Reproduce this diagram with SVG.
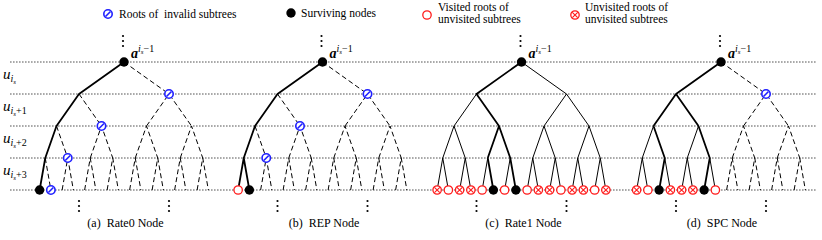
<svg xmlns="http://www.w3.org/2000/svg" width="822" height="240" viewBox="0 0 822 240" font-family="'Liberation Serif', 'Times New Roman', serif">
<style>
.lvl{stroke:#555;stroke-width:1;stroke-dasharray:1.6 1.4;fill:none}
.th{stroke:#000;stroke-width:1.8;fill:none;stroke-linejoin:round}
.tn{stroke:#000;stroke-width:1;fill:none}
.ds{stroke:#000;stroke-width:1;fill:none;stroke-dasharray:5 3}
.lg{font-size:11.5px;white-space:pre}
.cap{font-size:12px;text-anchor:middle;white-space:pre}
.m{font-style:italic}
</style>
<defs>
<g id="blk"><circle r="4.7" fill="#000"/></g>
<g id="inv"><circle r="4.2" fill="#fff" stroke="#1f1fff" stroke-width="1.6"/><line x1="-2.5" y1="2.5" x2="2.5" y2="-2.5" stroke="#1f1fff" stroke-width="1.6"/></g>
<g id="vis"><circle r="4.2" fill="#fff" stroke="#ff1a1a" stroke-width="1.3"/></g>
<g id="unv"><circle r="4.2" fill="#fff" stroke="#ff1a1a" stroke-width="1.3"/><path d="M-2.7,-2.7 L2.7,2.7 M-2.7,2.7 L2.7,-2.7" stroke="#ff1a1a" stroke-width="1.1"/></g>
<g id="vd"><circle r="1.1"/><circle cy="5" r="1.1"/><circle cy="10" r="1.1"/></g>
<path id="rsub" d="M22.5,64 L45,32 L67.5,64 M11.25,96 L22.5,64 L33.75,96 M56.25,96 L67.5,64 L78.75,96 M5.625,128 L11.25,96 L16.875,128 M28.125,128 L33.75,96 L39.375,128 M50.625,128 L56.25,96 L61.875,128 M73.125,128 L78.75,96 L84.375,128"/>
</defs>
<rect width="822" height="240" fill="#fff"/>

<g id="levels">
<line class="lvl" x1="10" y1="62" x2="817" y2="62"/>
<line class="lvl" x1="10" y1="94" x2="817" y2="94"/>
<line class="lvl" x1="10" y1="126" x2="817" y2="126"/>
<line class="lvl" x1="10" y1="158" x2="817" y2="158"/>
<line class="lvl" x1="10" y1="190" x2="817" y2="190"/>
</g>

<g id="level-labels">
<text x="3" y="79"><tspan class="m" font-size="15">u</tspan><tspan class="m" font-size="10" dy="3">i</tspan><tspan class="m" font-size="7" dy="2">s</tspan></text>
<text x="3" y="111"><tspan class="m" font-size="15">u</tspan><tspan class="m" font-size="10" dy="3">i</tspan><tspan class="m" font-size="7" dy="2">s</tspan><tspan font-size="10" dy="-2">+1</tspan></text>
<text x="3" y="143"><tspan class="m" font-size="15">u</tspan><tspan class="m" font-size="10" dy="3">i</tspan><tspan class="m" font-size="7" dy="2">s</tspan><tspan font-size="10" dy="-2">+2</tspan></text>
<text x="3" y="175"><tspan class="m" font-size="15">u</tspan><tspan class="m" font-size="10" dy="3">i</tspan><tspan class="m" font-size="7" dy="2">s</tspan><tspan font-size="10" dy="-2">+3</tspan></text>
</g>

<g id="legend">
<use href="#inv" x="108" y="14"/>
<text class="lg" x="119" y="18">Roots of  invalid subtrees</text>
<use href="#blk" x="291" y="13"/>
<text class="lg" x="301" y="17">Surviving nodes</text>
<use href="#vis" x="427" y="15"/>
<text class="lg" x="438" y="10.5">Visited roots of</text>
<text class="lg" x="438" y="23">unvisited subtrees</text>
<use href="#unv" x="575" y="15"/>
<text class="lg" x="585" y="10.5">Unvisited roots of</text>
<text class="lg" x="585" y="23">unvisited subtrees</text>
</g>

<g id="tree-a">
<g id="conn-a" transform="translate(124,62)">
<path class="th" d="M0,0 L-45,32 L-67.5,64 L-78.75,96 L-84.375,128"/>
<path class="ds" d="M0,0 L45,32 M-45,32 L-22.5,64 M-67.5,64 L-56.25,96 M-78.75,96 L-73.125,128 M-33.75,96 L-22.5,64 L-11.25,96 M-39.375,128 L-33.75,96 L-28.125,128 M-16.875,128 L-11.25,96 L-5.625,128 M-61.875,128 L-56.25,96 L-50.625,128"/>
<use href="#rsub" class="ds"/>
</g>
<g id="nodes-a" transform="translate(124,62)">
<use href="#blk" x="0" y="0"/>
<use href="#inv" x="45" y="32"/>
<use href="#inv" x="-22.5" y="64"/>
<use href="#inv" x="-56.25" y="96"/>
<use href="#blk" x="-84.375" y="128"/>
<use href="#inv" x="-73.125" y="128"/>
</g>
</g>

<g id="tree-b">
<g id="conn-b" transform="translate(322.5,62)">
<path class="th" d="M0,0 L-45,32 L-67.5,64 L-78.75,96 L-73.125,128 M-78.75,96 L-84.375,128"/>
<path class="ds" d="M0,0 L45,32 M-45,32 L-22.5,64 M-67.5,64 L-56.25,96 M-33.75,96 L-22.5,64 L-11.25,96 M-39.375,128 L-33.75,96 L-28.125,128 M-16.875,128 L-11.25,96 L-5.625,128 M-61.875,128 L-56.25,96 L-50.625,128"/>
<use href="#rsub" class="ds"/>
</g>
<g id="nodes-b" transform="translate(322.5,62)">
<use href="#blk" x="0" y="0"/>
<use href="#inv" x="45" y="32"/>
<use href="#inv" x="-22.5" y="64"/>
<use href="#inv" x="-56.25" y="96"/>
<use href="#vis" x="-84.375" y="128"/>
<use href="#blk" x="-73.125" y="128"/>
</g>
</g>

<g id="tree-c">
<g id="conn-c" transform="translate(521.5,62)">
<path class="tn" d="M0,0 L45,32 M-45,32 L-67.5,64 M-78.75,96 L-67.5,64 L-56.25,96 M-84.375,128 L-78.75,96 L-73.125,128 M-61.875,128 L-56.25,96 L-50.625,128 M-33.75,96 L-39.375,128 M-11.25,96 L-16.875,128"/>
<use href="#rsub" class="tn"/>
<path class="th" d="M0,0 L-45,32 L-22.5,64 M-33.75,96 L-22.5,64 L-11.25,96 M-33.75,96 L-28.125,128 M-11.25,96 L-5.625,128"/>
</g>
<g id="nodes-c" transform="translate(521.5,62)">
<use href="#blk" x="0" y="0"/>
<use href="#unv" x="-84.375" y="128"/>
<use href="#vis" x="-73.125" y="128"/>
<use href="#unv" x="-61.875" y="128"/>
<use href="#unv" x="-50.625" y="128"/>
<use href="#vis" x="-39.375" y="128"/>
<use href="#blk" x="-28.125" y="128"/>
<use href="#vis" x="-16.875" y="128"/>
<use href="#blk" x="-5.625" y="128"/>
<use href="#vis" x="5.625" y="128"/>
<use href="#unv" x="16.875" y="128"/>
<use href="#unv" x="28.125" y="128"/>
<use href="#vis" x="39.375" y="128"/>
<use href="#unv" x="50.625" y="128"/>
<use href="#unv" x="61.875" y="128"/>
<use href="#vis" x="73.125" y="128"/>
<use href="#unv" x="84.375" y="128"/>
</g>
</g>

<g id="tree-d">
<g id="conn-d" transform="translate(721,62)">
<path class="tn" d="M-67.5,64 L-78.75,96 M-84.375,128 L-78.75,96 L-73.125,128 M-56.25,96 L-50.625,128 M-22.5,64 L-33.75,96 M-39.375,128 L-33.75,96 L-28.125,128 M-11.25,96 L-5.625,128"/>
<path class="th" d="M0,0 L-45,32 M-67.5,64 L-45,32 L-22.5,64 M-67.5,64 L-56.25,96 L-61.875,128 M-22.5,64 L-11.25,96 L-16.875,128"/>
<path class="ds" d="M0,0 L45,32"/>
<use href="#rsub" class="ds"/>
</g>
<g id="nodes-d" transform="translate(721,62)">
<use href="#blk" x="0" y="0"/>
<use href="#inv" x="45" y="32"/>
<use href="#unv" x="-84.375" y="128"/>
<use href="#vis" x="-73.125" y="128"/>
<use href="#blk" x="-61.875" y="128"/>
<use href="#unv" x="-50.625" y="128"/>
<use href="#unv" x="-39.375" y="128"/>
<use href="#unv" x="-28.125" y="128"/>
<use href="#blk" x="-16.875" y="128"/>
<use href="#vis" x="-5.625" y="128"/>
</g>
</g>

<g id="root-labels">
<use href="#vd" x="123" y="36"/>
<use href="#vd" x="321.5" y="36"/>
<use href="#vd" x="520.5" y="36"/>
<use href="#vd" x="720" y="36"/>
<text x="131" y="58"><tspan font-weight="bold" class="m" font-size="14">a</tspan><tspan class="m" font-size="10" dy="-6">i</tspan><tspan class="m" font-size="7" dy="2">s</tspan><tspan font-size="10" dy="-2">−1</tspan></text>
<text x="329.5" y="58"><tspan font-weight="bold" class="m" font-size="14">a</tspan><tspan class="m" font-size="10" dy="-6">i</tspan><tspan class="m" font-size="7" dy="2">s</tspan><tspan font-size="10" dy="-2">−1</tspan></text>
<text x="528.5" y="58"><tspan font-weight="bold" class="m" font-size="14">a</tspan><tspan class="m" font-size="10" dy="-6">i</tspan><tspan class="m" font-size="7" dy="2">s</tspan><tspan font-size="10" dy="-2">−1</tspan></text>
<text x="728" y="58"><tspan font-weight="bold" class="m" font-size="14">a</tspan><tspan class="m" font-size="10" dy="-6">i</tspan><tspan class="m" font-size="7" dy="2">s</tspan><tspan font-size="10" dy="-2">−1</tspan></text>
</g>

<g id="bottom-dots">
<use href="#vd" x="79" y="201"/>
<use href="#vd" x="169" y="201"/>
<use href="#vd" x="277.5" y="201"/>
<use href="#vd" x="367.5" y="201"/>
<use href="#vd" x="476.5" y="201"/>
<use href="#vd" x="566.5" y="201"/>
<use href="#vd" x="676" y="201"/>
<use href="#vd" x="766" y="201"/>
</g>

<g id="captions">
<text class="cap" x="125.5" y="227">(a)  Rate0 Node</text>
<text class="cap" x="324" y="227">(b)  REP Node</text>
<text class="cap" x="523.5" y="227">(c)  Rate1 Node</text>
<text class="cap" x="722" y="227">(d)  SPC Node</text>
</g>
</svg>
